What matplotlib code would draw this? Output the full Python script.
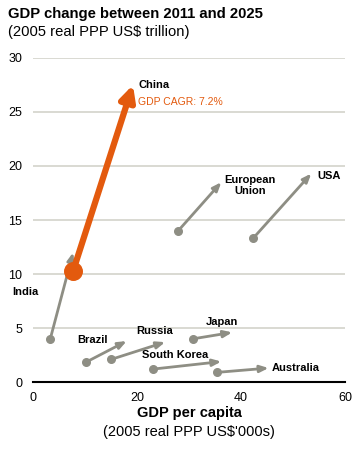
import matplotlib
matplotlib.use("Agg")
import matplotlib.pyplot as plt

plt.rcParams['font.family'] = ['Liberation Sans', 'DejaVu Sans']

# GDP per capita ('000s) and GDP (trillion), 2011 -> 2025
countries = ["China", "India", "European Union", "USA", "Brazil", "Russia", "Japan", "South Korea", "Australia"]
x_2011 = [7.7, 3.3, 27.9, 42.3, 10.2, 15.0, 30.7, 23.0, 35.4]
y_2011 = [10.3, 4.0, 14.0, 13.3, 1.85, 2.1, 4.0, 1.2, 0.9]
x_2025 = [19.2, 7.7, 36.2, 53.5, 18.0, 25.4, 38.3, 36.2, 45.3]
y_2025 = [27.5, 12.0, 18.5, 19.3, 3.8, 3.7, 4.6, 1.9, 1.3]
label_pos = {
    "China": (20.2, 27.5, "left"),
    "India": (-4.0, 8.3, "left"),
    "European Union": (41.7, 18.2, "center"),
    "USA": (54.6, 19.1, "left"),
    "Brazil": (8.5, 3.9, "left"),
    "Russia": (19.8, 4.7, "left"),
    "Japan": (33.2, 5.6, "left"),
    "South Korea": (21.0, 2.5, "left"),
    "Australia": (45.8, 1.3, "left"),
}
cagr_text = "GDP CAGR: 7.2%"

orange = "#E35A0E"
grey = "#8E8E84"

fig = plt.figure(figsize=(3.64, 4.49), dpi=100)
ax = fig.add_axes([0.091, 0.149, 0.857, 0.722])

for i, c in enumerate(countries):
    if c == "China":
        ax.annotate("", xy=(x_2025[i], y_2025[i]), xytext=(x_2011[i], y_2011[i]),
                    arrowprops=dict(arrowstyle="-|>,head_length=0.9,head_width=0.45",
                                    color=orange, lw=4.5, shrinkA=0, shrinkB=0), zorder=4)
        ax.scatter([x_2011[i]], [y_2011[i]], s=160, color=orange, zorder=5)
    else:
        ax.annotate("", xy=(x_2025[i], y_2025[i]), xytext=(x_2011[i], y_2011[i]),
                    arrowprops=dict(arrowstyle="-|>,head_length=0.5,head_width=0.2",
                                    color=grey, lw=2, shrinkA=0, shrinkB=0), zorder=3)
        ax.scatter([x_2011[i]], [y_2011[i]], s=30, color=grey, zorder=3)
    lx, ly, ha = label_pos[c]
    name = "European\nUnion" if c == "European Union" else c
    ax.text(lx, ly, name, fontsize=8, fontweight="bold", ha=ha, va="center",
            linespacing=1.2, clip_on=False)

ax.text(20.2, 25.9, cagr_text, fontsize=7.5, color=orange, ha="left", va="center")

ax.set_xlim(0, 60)
ax.set_ylim(0, 30)
ax.set_xticks([0, 20, 40, 60])
ax.set_yticks([0, 5, 10, 15, 20, 25, 30])
ax.tick_params(length=0, labelsize=9, pad=7)
ax.tick_params(axis="y", pad=8)
ax.grid(axis="y", color="#D3D3CB", lw=1.2)
ax.set_axisbelow(True)
for s in ["top", "right", "left"]:
    ax.spines[s].set_visible(False)
ax.spines["bottom"].set_color("black")
ax.spines["bottom"].set_linewidth(1.5)

fig.text(0.022, 0.968, "GDP change between 2011 and 2025", fontsize=10.7, fontweight="bold", va="center")
fig.text(0.022, 0.928, "(2005 real PPP US$ trillion)", fontsize=10.6, va="center")
fig.text(0.52, 0.080, "GDP per capita", fontsize=10.5, fontweight="bold", ha="center", va="center")
fig.text(0.52, 0.038, "(2005 real PPP US$'000s)", fontsize=10.5, ha="center", va="center")

fig.savefig("out.png", dpi=100)
